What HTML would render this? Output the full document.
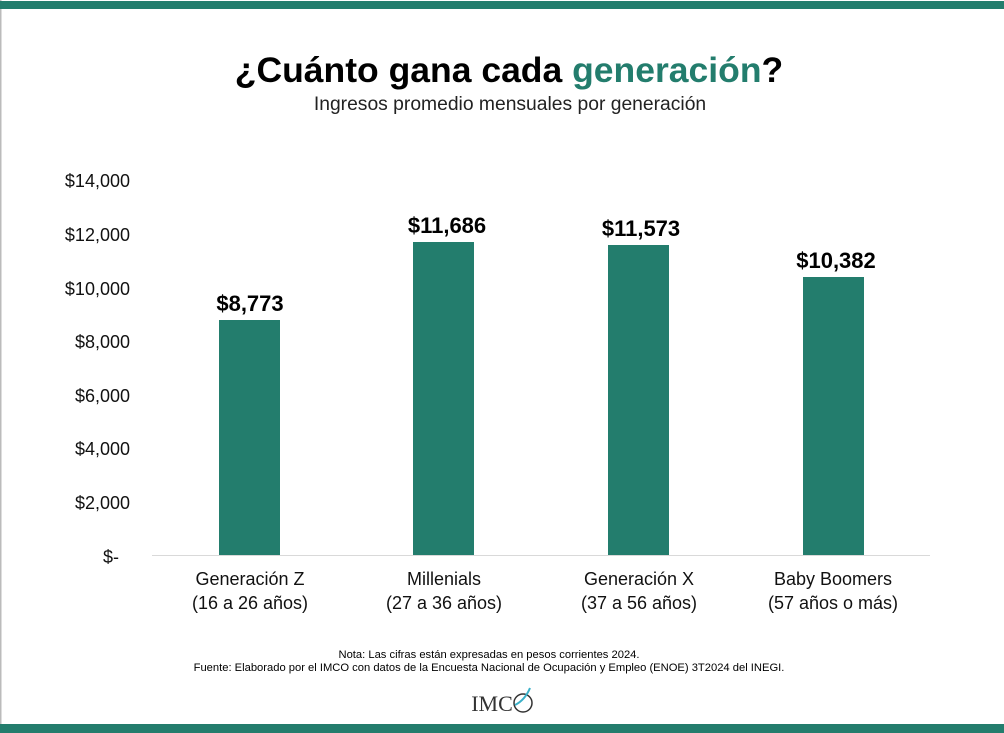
<!DOCTYPE html>
<html><head><meta charset="utf-8"><style>
body{margin:0;background:#fff;}
svg{display:block;font-family:"Liberation Sans",Arial,sans-serif;}
</style></head><body>
<svg width="1004" height="733" viewBox="0 0 1004 733" xmlns="http://www.w3.org/2000/svg">
<rect width="1004" height="733" fill="#fff"/>
<rect x="0" y="0" width="1.5" height="733" fill="#bbb"/>
<rect x="0" y="1" width="1004" height="8" fill="#237d6d"/>
<rect x="0" y="724" width="1004" height="9" fill="#237d6d"/>
<text x="509" y="82" text-anchor="middle" font-size="35.5" font-weight="bold" fill="#000">¿Cuánto gana cada <tspan fill="#237d6d">generación</tspan>?</text>
<text x="510" y="110" text-anchor="middle" font-size="19.3" fill="#222">Ingresos promedio mensuales por generación</text>
<g font-size="18" fill="#111" text-anchor="end">
<text x="130" y="187">$14,000</text>
<text x="130" y="241">$12,000</text>
<text x="130" y="295">$10,000</text>
<text x="130" y="348">$8,000</text>
<text x="130" y="402">$6,000</text>
<text x="130" y="455">$4,000</text>
<text x="130" y="509">$2,000</text>
<text x="119" y="563">$-</text>
</g>
<line x1="152" y1="555.5" x2="930" y2="555.5" stroke="#d9d9d9" stroke-width="1"/>
<g fill="#237d6d">
<rect x="219" y="320" width="61" height="235"/>
<rect x="413" y="242" width="61" height="313"/>
<rect x="608" y="245" width="61" height="310"/>
<rect x="803" y="277" width="61" height="278"/>
</g>
<g font-size="22" font-weight="bold" text-anchor="middle" fill="#000">
<text x="250" y="311">$8,773</text>
<text x="447" y="233">$11,686</text>
<text x="641" y="236">$11,573</text>
<text x="836" y="268">$10,382</text>
</g>
<g font-size="18" text-anchor="middle" fill="#111">
<text x="250" y="585">Generación Z</text><text x="250" y="609">(16 a 26 años)</text>
<text x="444" y="585">Millenials</text><text x="444" y="609">(27 a 36 años)</text>
<text x="639" y="585">Generación X</text><text x="639" y="609">(37 a 56 años)</text>
<text x="833" y="585">Baby Boomers</text><text x="833" y="609">(57 años o más)</text>
</g>
<g font-size="11.2" text-anchor="middle" fill="#000">
<text x="489" y="658">Nota: Las cifras están expresadas en pesos corrientes 2024.</text>
<text x="489" y="671">Fuente: Elaborado por el IMCO con datos de la Encuesta Nacional de Ocupación y Empleo (ENOE) 3T2024 del INEGI.</text>
</g>
<text x="492" y="711" text-anchor="middle" font-family="Liberation Serif,serif" font-size="22" fill="#333">IMC</text>
<circle cx="523" cy="703" r="9" fill="none" stroke="#333" stroke-width="1.5"/>
<path d="M515 705 Q525 700 530 688" stroke="#3ab0c8" stroke-width="2" fill="none"/>
</svg>
</body></html>
